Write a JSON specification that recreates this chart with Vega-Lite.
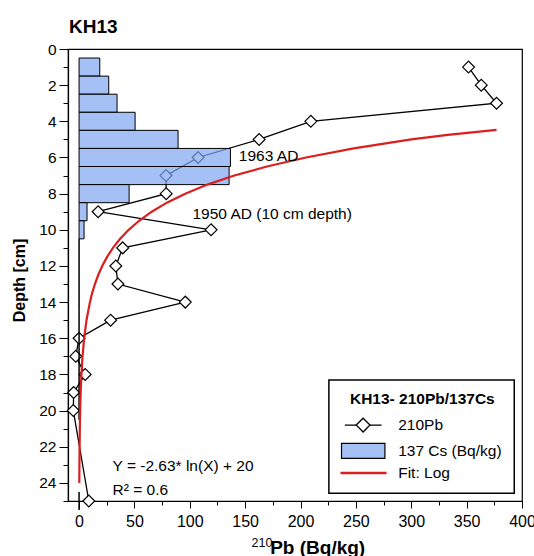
{
  "$schema": "https://vega.github.io/schema/vega-lite/v6.json",
  "width": 454,
  "height": 452,
  "autosize": {"type": "none"},
  "padding": {"left": 68, "top": 49, "right": 12, "bottom": 55},
  "background": "white",
  "title": {"text": "KH13", "anchor": "start", "frame": "group", "fontSize": 19, "fontWeight": "bold", "baseline": "alphabetic", "offset": 17, "dx": 1, "dy": 27, "font": "Liberation Sans", "color": "black"},
  "config": {
    "font": "Liberation Sans",
    "view": {"stroke": "black", "strokeWidth": 1.2},
    "axis": {"grid": false, "domainColor": "black", "tickColor": "black", "labelColor": "black", "titleColor": "black", "labelFont": "Liberation Sans", "titleFont": "Liberation Sans", "labelFontSize": 15.5, "labelOverlap": false, "domainWidth": 1.2, "tickWidth": 1}
  },
  "resolve": {"axis": {"x": "independent", "y": "independent"}},
  "datasets": {
    "pb": [
      {"depth": 1, "pb": 351.7}, {"depth": 2, "pb": 363.2}, {"depth": 3, "pb": 377}, {"depth": 4, "pb": 209.3},
      {"depth": 5, "pb": 162.6}, {"depth": 6, "pb": 107.5}, {"depth": 7, "pb": 78.5}, {"depth": 8, "pb": 78.7},
      {"depth": 9, "pb": 17.2}, {"depth": 10, "pb": 119.2}, {"depth": 11, "pb": 39.4}, {"depth": 12, "pb": 33.2},
      {"depth": 13, "pb": 35.1}, {"depth": 14, "pb": 95.9}, {"depth": 15, "pb": 28.5}, {"depth": 16, "pb": 0},
      {"depth": 17, "pb": -3}, {"depth": 18, "pb": 5.5}, {"depth": 19, "pb": -4.9}, {"depth": 20, "pb": -5.2},
      {"depth": 25, "pb": 8.8}
    ],
    "cs": [
      {"depth": 1, "cs": 18.7}, {"depth": 2, "cs": 26.8}, {"depth": 3, "cs": 34.3}, {"depth": 4, "cs": 50.6},
      {"depth": 5, "cs": 89.4}, {"depth": 6, "cs": 136.7}, {"depth": 7, "cs": 135.5}, {"depth": 8, "cs": 45.2},
      {"depth": 9, "cs": 7.2}, {"depth": 10, "cs": 4.5}, {"depth": 11, "cs": 0}, {"depth": 12, "cs": 0},
      {"depth": 13, "cs": 0}, {"depth": 14, "cs": 0}, {"depth": 15, "cs": 0}, {"depth": 16, "cs": 0},
      {"depth": 17, "cs": 0}, {"depth": 18, "cs": 0}, {"depth": 19, "cs": 0}, {"depth": 20, "cs": 0},
      {"depth": 25, "cs": 0}
    ],
    "fit": [
      {"depth": 4.47, "pb": 377}, {"depth": 4.75, "pb": 333}, {"depth": 5, "pb": 300}, {"depth": 5.5, "pb": 248},
      {"depth": 6, "pb": 205}, {"depth": 6.5, "pb": 169.6}, {"depth": 7, "pb": 140.2}, {"depth": 7.5, "pb": 115.9},
      {"depth": 8, "pb": 95.9}, {"depth": 8.5, "pb": 79.3}, {"depth": 9, "pb": 65.6}, {"depth": 9.5, "pb": 54.2},
      {"depth": 10, "pb": 44.8}, {"depth": 10.5, "pb": 37.1}, {"depth": 11, "pb": 30.6}, {"depth": 11.5, "pb": 25.3},
      {"depth": 12, "pb": 20.9}, {"depth": 12.5, "pb": 17.3}, {"depth": 13, "pb": 14.3}, {"depth": 13.5, "pb": 11.8},
      {"depth": 14, "pb": 9.8}, {"depth": 15, "pb": 6.7}, {"depth": 16, "pb": 4.58}, {"depth": 17, "pb": 3.13},
      {"depth": 18, "pb": 2.14}, {"depth": 19, "pb": 1.46}, {"depth": 20, "pb": 1.0}, {"depth": 21, "pb": 0.68},
      {"depth": 22, "pb": 0.47}, {"depth": 23, "pb": 0.32}, {"depth": 24, "pb": 0.22}
    ],
    "one": [{}]
  },
  "layer": [
    {
      "data": {"name": "pb"},
      "mark": {"type": "line", "color": "black", "strokeWidth": 1.3},
      "encoding": {
        "x": {"field": "pb", "type": "quantitative", "scale": {"domain": [-10, 400], "nice": false, "zero": false, "padding": 0},
          "axis": {
            "orient": "bottom", "title": "Pb (Bq/kg)", "values": [0, 50, 100, 150, 200, 250, 300, 350, 400],
            "tickSize": 7, "labelPadding": 5, "labelFlush": false, "labelFontSize": 16,
            "titleFontSize": 19, "titleFontWeight": "bold", "titleX": 201.7, "titleY": 52.3, "titleAlign": "left", "titleBaseline": "alphabetic", "titleAnchor": "start"
          }
        },
        "y": {"field": "depth", "type": "quantitative", "scale": {"domain": [0, 25], "reverse": true, "nice": false, "zero": false, "padding": 0},
          "axis": {
            "orient": "left", "title": "Depth [cm]", "values": [0, 2, 4, 6, 8, 10, 12, 14, 16, 18, 20, 22, 24],
            "tickSize": 9, "labelPadding": 3,
            "titleFontSize": 16, "titleFontWeight": "bold", "titleAngle": -90, "titleX": -43.5, "titleY": 231, "titleAlign": "center", "titleBaseline": "alphabetic"
          }
        },
        "order": {"field": "depth", "type": "quantitative"}
      }
    },
    {
      "data": {"name": "pb"},
      "mark": {"type": "point", "shape": "diamond", "filled": true, "fill": "white", "stroke": "black", "strokeWidth": 1.2, "size": 140, "opacity": 1},
      "encoding": {
        "x": {"field": "pb", "type": "quantitative", "scale": {"domain": [-10, 400], "nice": false, "zero": false, "padding": 0},
          "axis": {"orient": "bottom", "title": null, "values": [25, 75, 125, 175, 225, 275, 325, 375], "labels": false, "domain": false, "tickSize": 4}},
        "y": {"field": "depth", "type": "quantitative", "scale": {"domain": [0, 25], "reverse": true, "nice": false, "zero": false, "padding": 0},
          "axis": {"orient": "left", "title": null, "values": [1, 3, 5, 7, 9, 11, 13, 15, 17, 19, 21, 23, 25], "labels": false, "domain": false, "tickSize": 5}}
      }
    },
    {
      "data": {"name": "cs"},
      "mark": {"type": "bar", "orient": "horizontal", "size": 18.1, "fill": "#7da5f1", "fillOpacity": 0.7, "stroke": "black", "strokeWidth": 1},
      "encoding": {
        "x": {"field": "cs", "type": "quantitative", "scale": {"domain": [-10, 400], "nice": false, "zero": false, "padding": 0}, "axis": null},
        "y": {"field": "depth", "type": "quantitative", "scale": {"domain": [0, 25], "reverse": true, "nice": false, "zero": false, "padding": 0}, "axis": null}
      }
    },
    {
      "data": {"name": "fit"},
      "mark": {"type": "line", "color": "#dc1e1e", "strokeWidth": 2.2},
      "encoding": {
        "x": {"field": "pb", "type": "quantitative", "scale": {"domain": [-10, 400], "nice": false, "zero": false, "padding": 0}, "axis": null},
        "y": {"field": "depth", "type": "quantitative", "scale": {"domain": [0, 25], "reverse": true, "nice": false, "zero": false, "padding": 0}, "axis": null},
        "order": {"field": "depth", "type": "quantitative"}
      }
    },
    {
      "data": {"name": "one"},
      "mark": {"type": "text", "text": "1963 AD", "align": "left", "baseline": "middle", "fontSize": 15.5, "color": "black"},
      "encoding": {"x": {"datum": 144.3, "type": "quantitative", "axis": null}, "y": {"datum": 5.9, "type": "quantitative", "axis": null}}
    },
    {
      "data": {"name": "one"},
      "mark": {"type": "text", "text": "1950 AD (10 cm depth)", "align": "left", "baseline": "middle", "fontSize": 15.5, "color": "black"},
      "encoding": {"x": {"datum": 102.4, "type": "quantitative", "axis": null}, "y": {"datum": 9.15, "type": "quantitative", "axis": null}}
    },
    {
      "data": {"name": "one"},
      "mark": {"type": "text", "text": "Y = -2.63* ln(X) + 20", "align": "left", "baseline": "middle", "fontSize": 15.5, "color": "black"},
      "encoding": {"x": {"datum": 30.2, "type": "quantitative", "axis": null}, "y": {"datum": 23.07, "type": "quantitative", "axis": null}}
    },
    {
      "data": {"name": "one"},
      "mark": {"type": "text", "text": "R² = 0.6", "align": "left", "baseline": "middle", "fontSize": 15.5, "color": "black"},
      "encoding": {"x": {"datum": 30.2, "type": "quantitative", "axis": null}, "y": {"datum": 24.39, "type": "quantitative", "axis": null}}
    },
    {
      "data": {"name": "one"},
      "mark": {"type": "text", "text": "210", "align": "left", "baseline": "alphabetic", "fontSize": 12.5, "color": "black"},
      "encoding": {"x": {"datum": 155.7, "type": "quantitative", "axis": null}, "y": {"datum": 27.52, "type": "quantitative", "axis": null}}
    },
    {
      "data": {"name": "one"},
      "mark": {"type": "rect", "fill": "white", "stroke": "black", "strokeWidth": 1.5},
      "encoding": {
        "x": {"datum": 225.6, "type": "quantitative", "axis": null}, "x2": {"datum": 393},
        "y": {"datum": 18.31, "type": "quantitative", "axis": null}, "y2": {"datum": 24.57}
      }
    },
    {
      "data": {"name": "one"},
      "mark": {"type": "text", "text": "KH13- 210Pb/137Cs", "align": "center", "baseline": "alphabetic", "fontSize": 15.5, "fontWeight": "bold", "color": "black"},
      "encoding": {"x": {"datum": 310, "type": "quantitative", "axis": null}, "y": {"datum": 19.66, "type": "quantitative", "axis": null}}
    },
    {
      "data": {"name": "one"},
      "mark": {"type": "rule", "color": "black", "strokeWidth": 1.3},
      "encoding": {"x": {"datum": 240, "type": "quantitative", "axis": null}, "x2": {"datum": 273.2}, "y": {"datum": 20.8, "type": "quantitative", "axis": null}}
    },
    {
      "data": {"name": "one"},
      "mark": {"type": "point", "shape": "diamond", "filled": true, "fill": "white", "stroke": "black", "strokeWidth": 1.3, "size": 190, "opacity": 1},
      "encoding": {"x": {"datum": 256.5, "type": "quantitative", "axis": null}, "y": {"datum": 20.8, "type": "quantitative", "axis": null}}
    },
    {
      "data": {"name": "one"},
      "mark": {"type": "text", "text": "210Pb", "align": "left", "baseline": "middle", "fontSize": 15.5, "color": "black"},
      "encoding": {"x": {"datum": 288.2, "type": "quantitative", "axis": null}, "y": {"datum": 20.8, "type": "quantitative", "axis": null}}
    },
    {
      "data": {"name": "one"},
      "mark": {"type": "rect", "fill": "#7da5f1", "fillOpacity": 0.7, "stroke": "black", "strokeWidth": 1.2},
      "encoding": {
        "x": {"datum": 237, "type": "quantitative", "axis": null}, "x2": {"datum": 276.2},
        "y": {"datum": 21.81, "type": "quantitative", "axis": null}, "y2": {"datum": 22.64}
      }
    },
    {
      "data": {"name": "one"},
      "mark": {"type": "text", "text": "137 Cs (Bq/kg)", "align": "left", "baseline": "middle", "fontSize": 15.5, "color": "black"},
      "encoding": {"x": {"datum": 288.2, "type": "quantitative", "axis": null}, "y": {"datum": 22.24, "type": "quantitative", "axis": null}}
    },
    {
      "data": {"name": "one"},
      "mark": {"type": "rule", "color": "#dc1e1e", "strokeWidth": 2.4},
      "encoding": {"x": {"datum": 236.1, "type": "quantitative", "axis": null}, "x2": {"datum": 277.7}, "y": {"datum": 23.45, "type": "quantitative", "axis": null}}
    },
    {
      "data": {"name": "one"},
      "mark": {"type": "text", "text": "Fit: Log", "align": "left", "baseline": "middle", "fontSize": 15.5, "color": "black"},
      "encoding": {"x": {"datum": 288.2, "type": "quantitative", "axis": null}, "y": {"datum": 23.45, "type": "quantitative", "axis": null}}
    }
  ]
}
